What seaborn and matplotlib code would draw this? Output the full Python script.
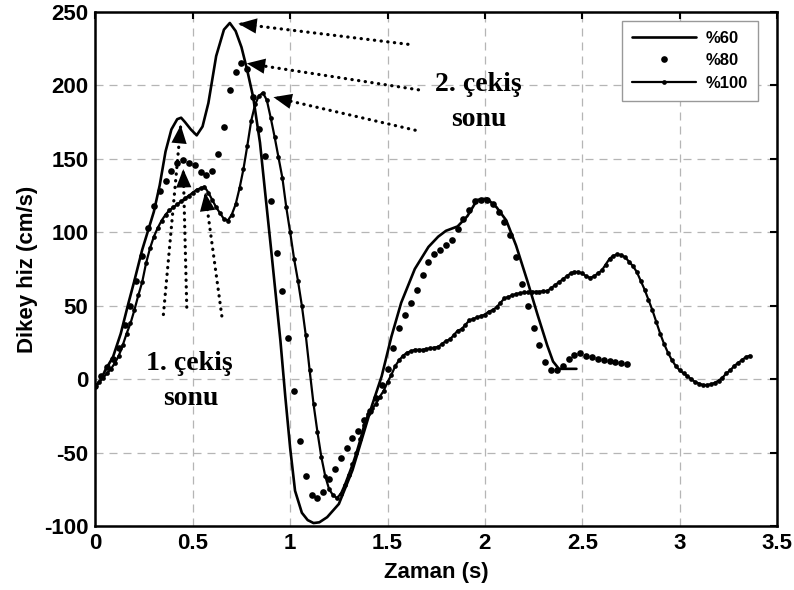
import numpy as np
import matplotlib
matplotlib.use("Agg")
import matplotlib.pyplot as plt
import seaborn as sns

# %60 - solid line (time in s, vertical velocity in cm/s)
t60 = [0.00, 0.03, 0.05, 0.09, 0.13, 0.17, 0.20, 0.24, 0.30, 0.33, 0.36, 0.39, 0.42, 0.44, 0.46,
       0.49, 0.52, 0.55, 0.58, 0.62, 0.66, 0.69, 0.72, 0.75, 0.78, 0.81, 0.845, 0.87, 0.90, 0.93,
       0.95, 0.975, 1.00, 1.025, 1.06, 1.09, 1.12, 1.15, 1.19, 1.25, 1.32, 1.37, 1.42, 1.47, 1.52,
       1.57, 1.64, 1.71, 1.76, 1.80, 1.86, 1.91, 1.96, 2.01, 2.06, 2.11, 2.16, 2.22, 2.27, 2.32,
       2.35, 2.38, 2.47]
v60 = [-5, 0, 6, 15, 31, 52, 67, 88, 114, 132, 155, 170, 177, 178, 175,
       170, 166, 172, 188, 220, 238, 242.5, 237, 226, 210, 192, 161, 129, 91, 52,
       26, -12, -47, -76, -91, -96, -98, -97.5, -94, -85, -62, -40, -18, 2, 29,
       52, 75, 90, 97, 101, 104, 111, 122, 123, 117, 108, 91, 66, 44, 23,
       12, 7, 7]

# %80 - dots only, one sample every 0.03 s
dt80 = 0.03
v80 = [-5, 2, 8, 14, 21, 37, 50, 67, 84, 103, 118, 128, 135, 142, 147, 149, 147, 146, 141, 139,
       142, 153, 172, 197, 209, 215, 211, 192, 170, 152, 121, 86, 60, 28, -8, -42, -66, -79, -81, -77,
       -68, -61, -54, -47, -40, -35, -28, -22, -13, -4, 7, 21, 35, 44, 52, 61, 71, 80, 85, 88,
       91, 95, 102, 109, 115, 121, 122, 122, 119, 114, 107, 98, 83, 65, 50, 35, 23, 12, 6, 6,
       9, 14, 16.5, 17.5, 16, 15, 14, 13, 12.5, 12, 11, 10.5]

# %100 - line with small dots, one sample every 0.02 s
dt100 = 0.02
v100 = [-5, -2, 1, 4, 7, 11, 16, 23, 31, 38, 47, 57, 66, 79, 89, 97, 103, 108, 112, 115,
        117, 119, 121, 123, 125, 127, 129, 130, 131, 127, 122, 117, 113, 109, 108, 112, 119, 130, 143, 159,
        176, 187, 193, 195, 190, 178, 165, 151, 137, 117, 100, 82, 67, 50, 30, 6, -17, -36, -53, -66,
        -75, -79, -81, -78, -72, -65, -58, -50, -41, -31, -24, -20, -17, -12, -8, -2, 3, 9, 13, 16,
        18, 19, 20, 20, 20, 20.5, 21, 21.5, 22, 24, 26, 27, 30, 33, 34, 37, 40, 41, 42, 43,
        44, 46, 47, 49, 52, 55, 56, 57, 58, 58.5, 59, 59, 59.5, 59.5, 59.5, 60, 60, 62, 64, 66,
        68, 70, 72, 73, 73, 72, 70, 69, 70, 72, 74, 78, 82, 84, 85, 84.5, 83, 80, 77, 73,
        67, 61, 54, 47, 39, 31, 24, 18, 13, 9, 6, 4, 2, 0, -2, -3, -4, -4, -3.5, -2.5,
        -1, 1, 4, 6, 9, 11, 13, 15, 16]

t80 = np.round(np.arange(len(v80)) * dt80, 3)
t100 = np.round(np.arange(len(v100)) * dt100, 3)

xticks = [0, 0.5, 1, 1.5, 2, 2.5, 3, 3.5]
yticks = [-100, -50, 0, 50, 100, 150, 200, 250]

# annotation arrows: (tail x, tail y, tip x, tip y)
arrows_second = [(1.605, 228, 0.734, 242), (1.659, 197, 0.777, 215), (1.642, 169.5, 0.914, 192)]
arrows_first = [(0.349, 44, 0.438, 173), (0.469, 49, 0.451, 143), (0.649, 43, 0.563, 127)]
texts = [(1.965, 196, "2. çekiş"), (1.97, 172.5, "sonu"), (0.481, 6, "1. çekiş"), (0.49, -17.5, "sonu")]

sns.set_theme(style="white", rc={"axes.edgecolor": "black", "text.color": "black",
                                 "xtick.color": "black", "ytick.color": "black",
                                 "axes.labelcolor": "black"})
plt.rcParams["font.family"] = ["Liberation Sans", "DejaVu Sans"]
plt.rcParams["font.weight"] = "bold"

fig = plt.figure(figsize=(7.94, 5.90), dpi=100)
ax = fig.add_axes([0.1202, 0.1085, 0.8584, 0.8712])

sns.lineplot(x=t60, y=v60, ax=ax, color="black", lw=1.9, label="%60", estimator=None)
sns.lineplot(x=t80, y=v80, ax=ax, color="black", linestyle="", marker="o", markersize=4.8,
             mec="black", mew=0, label="%80", estimator=None)
sns.lineplot(x=t100, y=v100, ax=ax, color="black", lw=1.6, marker="o", markersize=3.4,
             mec="black", mew=0, label="%100", estimator=None)

# dotted arrows pointing to the end of each pull
for tx, ty, hx, hy in arrows_second + arrows_first:
    ax.plot([tx, hx], [ty, hy], color="black", lw=2.3, ls=(0, (0.1, 2.0)),
            dash_capstyle="round")
    ax.annotate("", xy=(hx, hy), xytext=(hx + 0.1 * (tx - hx), hy + 0.1 * (ty - hy)),
                arrowprops=dict(arrowstyle="-|>,head_length=1.2,head_width=0.5",
                                mutation_scale=11, color="black", lw=0,
                                shrinkA=0, shrinkB=0))

for x, y, s in texts:
    ax.text(x, y, s, ha="center", va="baseline", fontsize=20, weight="bold",
            family=["Liberation Serif", "DejaVu Serif"])

ax.set_xlim(0, 3.5)
ax.set_ylim(-100, 250)
ax.set_xticks(xticks)
ax.set_yticks(yticks)
ax.set_xticklabels([f"{v:g}" for v in xticks])
ax.set_yticklabels([f"{v:g}" for v in yticks])
ax.grid(True, ls=(0, (6.4, 4.8)), color="#b5b5b5", lw=0.9)
ax.tick_params(direction="in", length=5, width=1.5, top=True, right=True,
               labelsize=16, pad=5)
for sp in ax.spines.values():
    sp.set_linewidth(1.8)
    sp.set_visible(True)

ax.set_xlabel("Zaman (s)", fontsize=16, weight="bold", labelpad=6)
ax.set_ylabel("Dikey hiz (cm/s)", fontsize=16, weight="bold", labelpad=4)

ax.legend(loc="upper right", bbox_to_anchor=(0.972, 0.983), borderaxespad=0,
          fontsize=12, handlelength=3.8, handletextpad=0.6, labelspacing=0.45,
          borderpad=0.6, frameon=True, fancybox=False, framealpha=1,
          edgecolor="#999999")

fig.savefig("out.png", dpi=100)
